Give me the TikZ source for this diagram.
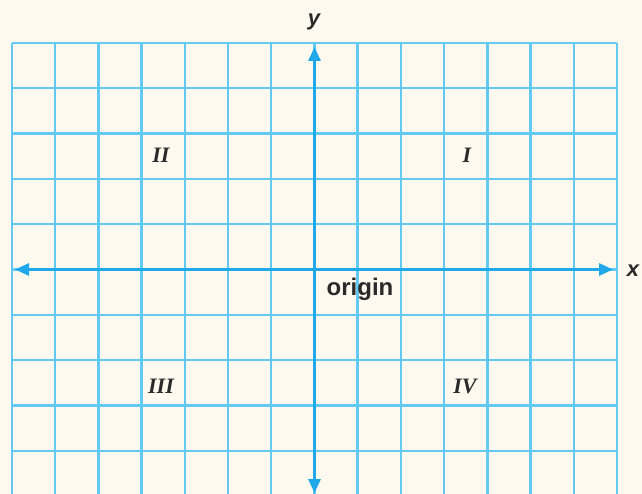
\documentclass[tikz,border=0pt]{standalone}
\usepackage{fontspec}
\setmainfont{Liberation Serif}
\setsansfont{Liberation Sans}
\usetikzlibrary{arrows.meta}
\definecolor{bgcream}{HTML}{FDF9EE}
\definecolor{gridblue}{HTML}{62C9F3}
\definecolor{axisblue}{HTML}{1FA8EA}
\definecolor{txtgray}{HTML}{2A2A2A}
\tikzset{
  gridline/.style={draw=gridblue, line width=2.4pt},
  axisline/.style={draw=axisblue, line width=3pt, {Triangle[length=14pt,width=12pt]}-{Triangle[length=14pt,width=12pt]}},
  quadlabel/.style={font=\fontsize{22}{24}\selectfont\bfseries\itshape, text=txtgray, inner sep=0pt},
  axislabel/.style={font=\fontsize{22}{24}\sffamily\bfseries\itshape\selectfont, text=txtgray, inner sep=0pt},
  originlabel/.style={font=\fontsize{24}{26}\sffamily\bfseries\selectfont, text=txtgray, inner sep=0pt}
}
\begin{document}
\begin{tikzpicture}[x=1pt,y=-1pt]
\fill[bgcream] (0,0) rectangle (642,494);
\useasboundingbox (0,0) rectangle (642,494);
\begin{scope}
\clip (0,0) rectangle (642,494);
\foreach \i in {0,...,14} {
  \draw[gridline] ({12+43.21*\i},43) -- ({12+43.21*\i},500);
}
\foreach \j in {0,...,10} {
  \draw[gridline] (12,{43+45.3*\j}) -- (617,{43+45.3*\j});
}
\end{scope}
\coordinate (ytop) at (314.5,47);
\coordinate (ybot) at (314.5,493);
\coordinate (xleft) at (15,269.5);
\coordinate (xright) at (613,269.5);
\draw[axisline] (ybot) -- (ytop);
\draw[axisline] (xleft) -- (xright);
\node[axislabel] (ylab) at (314,22) {y};
\node[axislabel] (xlab) at (633,271) {x};
\node[originlabel] (orig) at (360,289) {origin};
\node[quadlabel] (q1) at (467,155) {I};
\node[quadlabel] (q2) at (161,155) {II};
\node[quadlabel] (q3) at (161,386) {III};
\node[quadlabel] (q4) at (465,386) {IV};
\end{tikzpicture}
\end{document}
